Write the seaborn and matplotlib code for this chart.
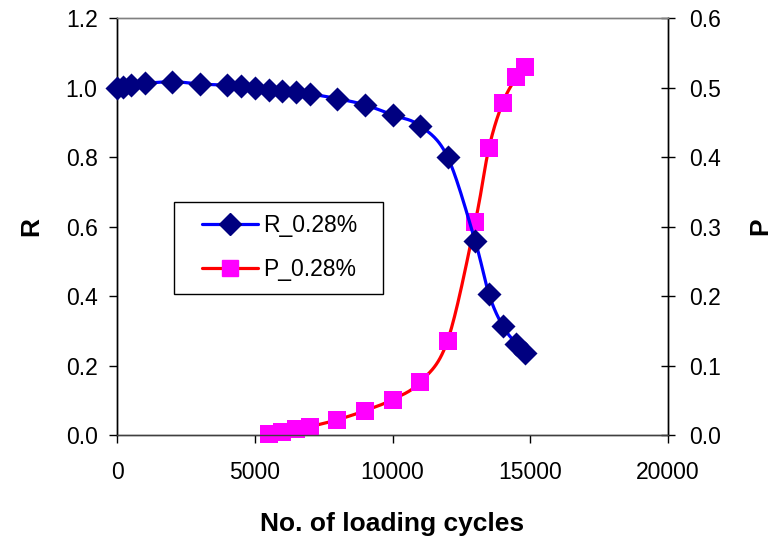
import numpy as np
import pandas as pd
import matplotlib
matplotlib.use("Agg")
import matplotlib.pyplot as plt
import seaborn as sns
from matplotlib.lines import Line2D
from matplotlib.patches import Rectangle

# Resistance ratio R against loading cycles
cycles_r = [0, 200, 500, 1000, 2000, 3000, 4000, 4500, 5000, 5500, 6000, 6500,
            7000, 8000, 9000, 10000, 11000, 12000, 13000, 13500, 14000, 14500, 14800]
r_values = [1.0, 1.002, 1.008, 1.012, 1.017, 1.01, 1.007, 1.004, 0.999, 0.994,
            0.991, 0.988, 0.982, 0.968, 0.95, 0.921, 0.89, 0.80, 0.558, 0.405,
            0.314, 0.262, 0.236]

# Damage parameter P against loading cycles
cycles_p = [5500, 6000, 6500, 7000, 8000, 9000, 10000, 11000, 12000, 13000,
            13500, 14000, 14500, 14800]
p_values = [0.002, 0.005, 0.008, 0.012, 0.022, 0.035, 0.051, 0.076, 0.136,
            0.306, 0.413, 0.478, 0.515, 0.530]

series_labels = ["R_0.28%", "P_0.28%"]
x_ticks = [0, 5000, 10000, 15000, 20000]


def smooth(xs, ys, steps=30):
    """Cardinal (Catmull-Rom) Bezier smoothing through every point."""
    pts = np.column_stack([xs, ys]).astype(float)
    n = len(pts)
    out = [pts[0]]
    t = np.linspace(0, 1, steps)[1:, None]
    for i in range(n - 1):
        p0 = pts[i - 1] if i > 0 else pts[i]
        p1, p2 = pts[i], pts[i + 1]
        p3 = pts[i + 2] if i + 2 < n else pts[i + 1]
        c1 = p1 + (p2 - p0) / 6.0
        c2 = p2 - (p3 - p1) / 6.0
        seg = ((1 - t) ** 3) * p1 + 3 * ((1 - t) ** 2) * t * c1 \
            + 3 * (1 - t) * t ** 2 * c2 + t ** 3 * p2
        out.extend(seg)
    out = np.array(out)
    return pd.DataFrame({"x": out[:, 0], "y": out[:, 1]})


sns.set_theme(style="white")
plt.rcParams["font.family"] = ["Liberation Sans", "DejaVu Sans"]

fig = plt.figure(figsize=(7.71, 5.38), dpi=100)
ax = fig.add_axes([0.1518, 0.1914, 0.7146, 0.7751])
ax2 = ax.twinx()

r_df = pd.DataFrame({"x": cycles_r, "y": r_values})
p_df = pd.DataFrame({"x": cycles_p, "y": p_values})

sns.lineplot(data=smooth(cycles_r, r_values), x="x", y="y", ax=ax, sort=False,
             estimator=None, color="#0000FF", linewidth=2.3, zorder=2)
sns.scatterplot(data=r_df, x="x", y="y", ax=ax, marker="D", s=150,
                color="#000080", edgecolor="#000080", linewidth=0, zorder=3,
                clip_on=False)

sns.lineplot(data=smooth(cycles_p, p_values), x="x", y="y", ax=ax2, sort=False,
             estimator=None, color="#FF0000", linewidth=2.3, zorder=2)
sns.scatterplot(data=p_df, x="x", y="y", ax=ax2, marker="s", s=150,
                color="#FF00FF", edgecolor="#FF00FF", linewidth=0, zorder=3,
                clip_on=False)

ax.set_xlim(0, 20000)
ax.set_ylim(0, 1.2)
ax2.set_ylim(0, 0.6)
ax.set_xticks(x_ticks)
ax.set_xticklabels([str(v) for v in x_ticks])
ax.set_yticks(np.arange(0, 1.21, 0.2))
ax.set_yticklabels([f"{v:.1f}" for v in np.arange(0, 1.21, 0.2)])
ax2.set_yticks(np.arange(0, 0.61, 0.1))
ax2.set_yticklabels([f"{v:.1f}" for v in np.arange(0, 0.61, 0.1)])

ax.set_xlabel("No. of loading cycles", fontsize=19, fontweight="bold",
              labelpad=20, color="black")
ax.set_ylabel("R", fontsize=19, fontweight="bold", labelpad=16, color="black")
ax2.set_ylabel("P", fontsize=19, fontweight="bold", labelpad=20, color="black")

for a in (ax, ax2):
    a.tick_params(labelsize=16.5, colors="black")
    for sp in a.spines.values():
        sp.set_linewidth(1.0)
    a.spines["left"].set_color("black")
    a.spines["right"].set_color("black")
    a.spines["bottom"].set_color("#404040")
    a.spines["top"].set_color("#808080")

ax.tick_params(axis="y", direction="out", length=6, width=1, pad=8, left=True)
ax.tick_params(axis="x", direction="out", length=6, width=1, pad=13, bottom=True)
ax2.tick_params(axis="y", direction="inout", length=10, width=1, pad=10, right=True)

# Legend box with generous side padding
ax.add_patch(Rectangle((0.1034, 0.338), 0.3794, 0.2208, transform=ax.transAxes,
                       facecolor="white", edgecolor="black", linewidth=1.0,
                       zorder=4))
handles = [
    Line2D([], [], color="#0000FF", lw=2.3, marker="D", markersize=11,
           markerfacecolor="#000080", markeredgecolor="#000080"),
    Line2D([], [], color="#FF0000", lw=2.3, marker="s", markersize=12,
           markerfacecolor="#FF00FF", markeredgecolor="#FF00FF"),
]
leg = ax.legend(handles, series_labels, loc="upper left",
                bbox_to_anchor=(0.1543, 0.531), fontsize=16.5, frameon=False,
                handlelength=2.45, borderpad=0.0, labelspacing=0.92,
                handletextpad=0.22, borderaxespad=0.0)
leg.set_zorder(5)
for txt in leg.get_texts():
    txt.set_color("black")
ax.set_zorder(ax2.get_zorder() + 1)
ax.patch.set_visible(False)

fig.savefig("out.png", dpi=100)
